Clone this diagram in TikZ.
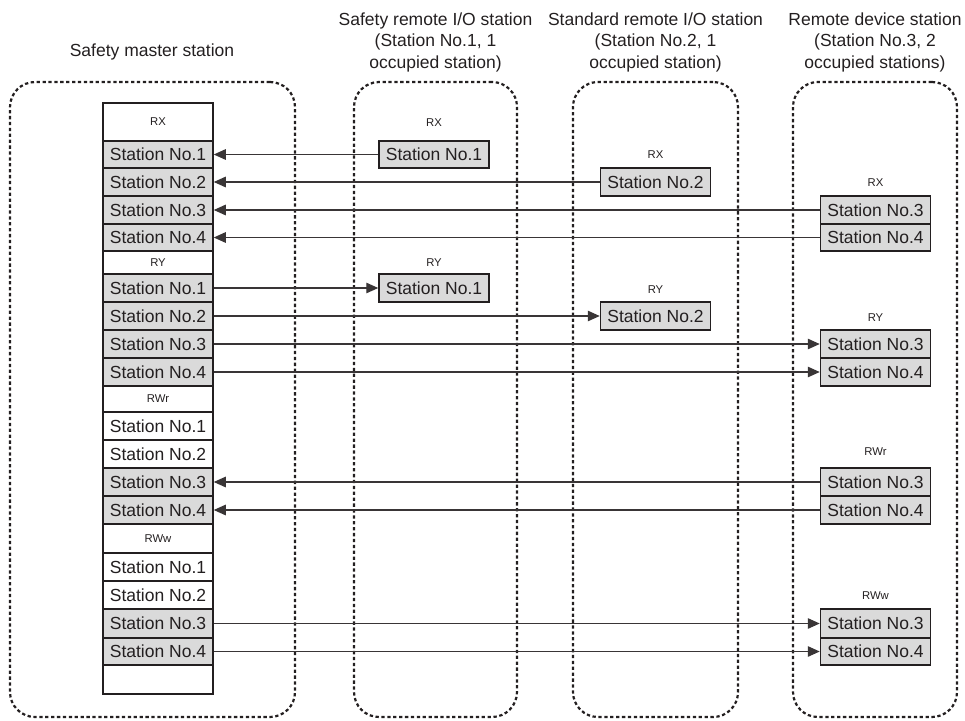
\documentclass[tikz,border=0pt]{standalone}
\usepackage{fontspec}
\setmainfont{Liberation Sans}
\usetikzlibrary{arrows.meta}
\definecolor{ink}{HTML}{231F20}
\definecolor{cellgray}{HTML}{DADADA}
\begin{document}
\begin{tikzpicture}[x=1pt,y=-1pt,
 every node/.style={text=ink},
 cell/.style={draw=ink, line width=1.5pt, minimum width=110pt, inner sep=0pt, font=\fontsize{17.5}{20}\selectfont},
 gcell/.style={cell, fill=cellgray},
 wcell/.style={cell, fill=white},
 hcell/.style={wcell, font=\fontsize{11.3}{13}\selectfont},
 hdr/.style={font=\fontsize{11.3}{13}\selectfont, inner sep=0pt},
 group/.style={draw=ink, line width=2.2pt, dash pattern=on 3.3pt off 2.6pt, rounded corners=25pt, inner sep=0pt},
 title/.style={font=\fontsize{17.5}{21.5}\selectfont, align=center, inner sep=0pt},
 arr/.style={draw=ink!90, line width=1.2pt, -{Triangle[length=12pt,width=10.5pt]}},
]
\useasboundingbox (0,0) rectangle (965,720);

% group containers
\node[group, minimum width=285pt, minimum height=635pt] (gM) at (152.5,399.5) {};
\node[group, minimum width=163pt, minimum height=635pt] (gS) at (435.5,399.5) {};
\node[group, minimum width=165pt, minimum height=635pt] (gD) at (655.5,399.5) {};
\node[group, minimum width=164pt, minimum height=635pt] (gR) at (875,399.5) {};

% titles
\node[title, anchor=base] (tM) at (152,56) {Safety master station};
\node[title] (tS) at (435.5,42) {Safety remote I/O station\\(Station No.1, 1\\occupied station)};
\node[title] (tD) at (655.5,42) {Standard remote I/O station\\(Station No.2, 1\\occupied station)};
\node[title] (tR) at (875,42) {Remote device station\\(Station No.3, 2\\occupied stations)};

% master table
\node[hcell, minimum height=38pt] (mXh) at (158,122) {RX};
\node[gcell, minimum height=27pt] (mX1) at (158,154.5) {Station No.1};
\node[gcell, minimum height=28pt] (mX2) at (158,182) {Station No.2};
\node[gcell, minimum height=28pt] (mX3) at (158,210) {Station No.3};
\node[gcell, minimum height=27pt] (mX4) at (158,237.5) {Station No.4};
\node[hcell, minimum height=23pt] (mYh) at (158,262.5) {RY};
\node[gcell, minimum height=28pt] (mY1) at (158,288) {Station No.1};
\node[gcell, minimum height=28pt] (mY2) at (158,316) {Station No.2};
\node[gcell, minimum height=28pt] (mY3) at (158,344) {Station No.3};
\node[gcell, minimum height=28pt] (mY4) at (158,372) {Station No.4};
\node[hcell, minimum height=26pt] (mRh) at (158,399) {RWr};
\node[wcell, minimum height=28pt] (mR1) at (158,426) {Station No.1};
\node[wcell, minimum height=28pt] (mR2) at (158,454) {Station No.2};
\node[gcell, minimum height=28pt] (mR3) at (158,482) {Station No.3};
\node[gcell, minimum height=28pt] (mR4) at (158,510) {Station No.4};
\node[hcell, minimum height=29pt] (mWh) at (158,538.5) {RWw};
\node[wcell, minimum height=28pt] (mW1) at (158,567) {Station No.1};
\node[wcell, minimum height=28pt] (mW2) at (158,595) {Station No.2};
\node[gcell, minimum height=29pt] (mW3) at (158,623.5) {Station No.3};
\node[gcell, minimum height=27pt] (mW4) at (158,651.5) {Station No.4};
\node[wcell, minimum height=29pt] (mB) at (158,679.5) {};

% safety remote I/O station
\node[hdr] (s1xl) at (434,123) {RX};
\node[gcell, minimum height=27pt] (s1x) at (434,154.5) {Station No.1};
\node[hdr] (s1yl) at (434,263) {RY};
\node[gcell, minimum height=28pt] (s1y) at (434,288) {Station No.1};

% standard remote I/O station
\node[hdr] (d2xl) at (655.5,155) {RX};
\node[gcell, minimum height=28pt] (d2x) at (655.5,182) {Station No.2};
\node[hdr] (d2yl) at (655.5,290) {RY};
\node[gcell, minimum height=28pt] (d2y) at (655.5,316) {Station No.2};

% remote device station
\node[hdr] (rxl) at (875.5,183) {RX};
\node[gcell, minimum height=28pt] (r3x) at (875.5,210) {Station No.3};
\node[gcell, minimum height=27pt] (r4x) at (875.5,237.5) {Station No.4};
\node[hdr] (ryl) at (875.5,318) {RY};
\node[gcell, minimum height=28pt] (r3y) at (875.5,344) {Station No.3};
\node[gcell, minimum height=28pt] (r4y) at (875.5,372) {Station No.4};
\node[hdr] (rrl) at (875.5,452) {RWr};
\node[gcell, minimum height=28pt] (r3r) at (875.5,482) {Station No.3};
\node[gcell, minimum height=28pt] (r4r) at (875.5,510) {Station No.4};
\node[hdr] (rwl) at (875.5,596) {RWw};
\node[gcell, minimum height=29pt] (r3w) at (875.5,623.5) {Station No.3};
\node[gcell, minimum height=27pt] (r4w) at (875.5,651.5) {Station No.4};

% connectors
\draw[arr] (s1x.west) -- (mX1.east);
\draw[arr] (d2x.west) -- (mX2.east);
\draw[arr] (r3x.west) -- (mX3.east);
\draw[arr] (r4x.west) -- (mX4.east);
\draw[arr] (mY1.east) -- (s1y.west);
\draw[arr] (mY2.east) -- (d2y.west);
\draw[arr] (mY3.east) -- (r3y.west);
\draw[arr] (mY4.east) -- (r4y.west);
\draw[arr] (r3r.west) -- (mR3.east);
\draw[arr] (r4r.west) -- (mR4.east);
\draw[arr] (mW3.east) -- (r3w.west);
\draw[arr] (mW4.east) -- (r4w.west);
\end{tikzpicture}
\end{document}
